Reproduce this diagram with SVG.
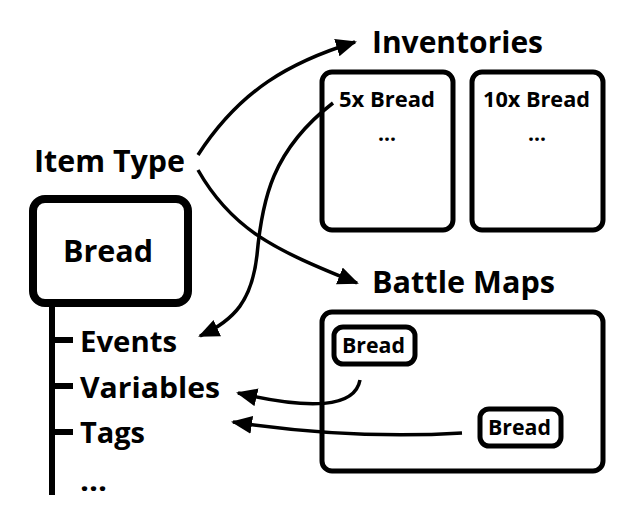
<svg xmlns="http://www.w3.org/2000/svg" width="626" height="517" viewBox="0 0 626 517">
<defs>
<marker id="ah" markerUnits="userSpaceOnUse" markerWidth="24" markerHeight="20" refX="19" refY="9" orient="auto">
<path d="M0,0 L21,9 L0,18 Z" fill="#000"/>
</marker>
<style>
text{font-family:"Open Sans","Liberation Sans",sans-serif;font-weight:bold;fill:#000}
.big{font-size:31px}
.mid{font-size:28px}
.sm{font-size:21px}
.box{fill:#fff;stroke:#000}
.edge{fill:none;stroke:#000;stroke-width:3.5;marker-end:url(#ah)}
</style>
</defs>
<rect width="626" height="517" fill="#fff"/>
<g id="item-type"><text class="big" x="34" y="172" textLength="151" lengthAdjust="spacingAndGlyphs">Item Type</text></g>
<g id="bread-main">
<rect class="box" x="33" y="199" width="155" height="104" rx="12" stroke-width="8"/>
<text class="big" x="63" y="262" textLength="90" lengthAdjust="spacingAndGlyphs">Bread</text>
</g>
<g id="bread-tree">
<line x1="52" y1="302" x2="52" y2="495" stroke="#000" stroke-width="6"/>
<line x1="52" y1="340" x2="73" y2="340" stroke="#000" stroke-width="6"/>
<line x1="52" y1="386" x2="73" y2="386" stroke="#000" stroke-width="6"/>
<line x1="52" y1="432" x2="73" y2="432" stroke="#000" stroke-width="6"/>
</g>
<g id="events"><text class="mid" x="80" y="352" textLength="97" lengthAdjust="spacingAndGlyphs">Events</text></g>
<g id="variables"><text class="mid" x="80" y="398" textLength="140" lengthAdjust="spacingAndGlyphs">Variables</text></g>
<g id="tags"><text class="mid" x="80" y="443" textLength="65" lengthAdjust="spacingAndGlyphs">Tags</text></g>
<g id="more"><text class="mid" x="80" y="491" textLength="27" lengthAdjust="spacingAndGlyphs">...</text></g>
<g id="inventories"><text class="big" x="372" y="53" textLength="171" lengthAdjust="spacingAndGlyphs">Inventories</text></g>
<g id="inv1">
<rect class="box" x="322" y="72" width="131" height="158" rx="10" stroke-width="5"/>
<text class="sm" x="339" y="107" textLength="96" lengthAdjust="spacingAndGlyphs">5x Bread</text>
<text class="sm" x="378" y="141" textLength="18" lengthAdjust="spacingAndGlyphs">...</text>
</g>
<g id="inv2">
<rect class="box" x="472" y="72" width="131" height="158" rx="10" stroke-width="5"/>
<text class="sm" x="483" y="107" textLength="107" lengthAdjust="spacingAndGlyphs">10x Bread</text>
<text class="sm" x="528" y="141" textLength="18" lengthAdjust="spacingAndGlyphs">...</text>
</g>
<g id="battle-maps"><text class="big" x="372" y="293" textLength="183" lengthAdjust="spacingAndGlyphs">Battle Maps</text></g>
<g id="battle-map-box">
<rect class="box" x="322" y="312" width="281" height="159" rx="10" stroke-width="5"/>
</g>
<g id="bread-1">
<rect class="box" x="334" y="327" width="81" height="37" rx="9" stroke-width="5"/>
<text class="sm" x="342" y="353" textLength="63" lengthAdjust="spacingAndGlyphs">Bread</text>
</g>
<g id="bread-2">
<rect class="box" x="480" y="409" width="81" height="37" rx="9" stroke-width="5"/>
<text class="sm" x="488" y="435" textLength="63" lengthAdjust="spacingAndGlyphs">Bread</text>
</g>
<g id="connectors">
<path class="edge" d="M198,155 C240,90 290,62 355,42"/>
<path class="edge" d="M198,170 C232,230 275,250 357,283"/>
<path class="edge" d="M333,103 C272,150 262,200 257,255 C252,300 235,320 200,336"/>
<path class="edge" d="M360,380 C355,408 310,410 238,393"/>
<path class="edge" d="M462,433 C380,438 300,432 233,422"/>
</g>
</svg>
